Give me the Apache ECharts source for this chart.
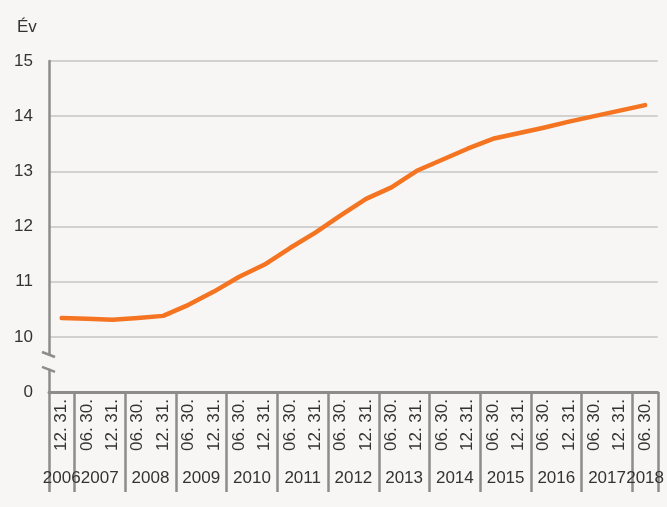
<!DOCTYPE html>
<html>
<head>
<meta charset="utf-8">
<script src="https://cdn.jsdelivr.net/npm/echarts@6/dist/echarts.min.js"></script>
<style>
  html, body { margin: 0; padding: 0; background: #f7f6f4; }
  #chart { width: 667px; height: 507px; }
</style>
</head>
<body>
<div id="chart"></div>
<script>
// félévek (hónap. nap.)
var dates = [
  "12. 31.",
  "06. 30.", "12. 31.", "06. 30.", "12. 31.", "06. 30.", "12. 31.",
  "06. 30.", "12. 31.", "06. 30.", "12. 31.", "06. 30.", "12. 31.",
  "06. 30.", "12. 31.", "06. 30.", "12. 31.", "06. 30.", "12. 31.",
  "06. 30.", "12. 31.", "06. 30.", "12. 31.",
  "06. 30."
];
var years = ["2006", "2007", "2008", "2009", "2010", "2011", "2012",
             "2013", "2014", "2015", "2016", "2017", "2018"];
// év címkék közepe és az évhatárok (kategória-egységben)
var yearCenters = [0.5, 2, 4, 6, 8, 10, 12, 14, 16, 18, 20, 22, 23.5];
var yearBounds = [0, 1, 3, 5, 7, 9, 11, 13, 15, 17, 19, 21, 23, 24];
// átlagéletkor, év
var values = [
  10.34, 10.33, 10.31, 10.34, 10.38, 10.58, 10.82, 11.09, 11.31, 11.61,
  11.89, 12.2, 12.5, 12.71, 13.01, 13.21, 13.41, 13.59, 13.69, 13.79,
  13.9, 14.0, 14.1, 14.2
];
var yTicks = [9, 10, 11, 12, 13, 14, 15];
var yTickLabels = ["0", "10", "11", "12", "13", "14", "15"];

var axisColor = "#8c8c8c";
var textColor = "#333333";
var bgColor = "#f7f6f4";

function init() {
  var myChart = echarts.init(document.getElementById("chart"));
  myChart.setOption({
    backgroundColor: bgColor,
    textStyle: { fontFamily: "Liberation Sans, Arial, sans-serif" },
    title: {
      text: "Év",
      left: 12,
      top: 14,
      textStyle: { fontSize: 17, fontWeight: "normal", color: textColor }
    },
    grid: { left: 49, right: 8, top: 61, bottom: 115 },
    xAxis: [
      {
        type: "category",
        data: dates,
        boundaryGap: true,
        axisLine: { lineStyle: { color: axisColor, width: 3 } },
        axisTick: {
          interval: 0,
          length: 68,
          lineStyle: { color: axisColor, width: 2.5 }
        },
        axisLabel: {
          interval: 0,
          rotate: 90,
          margin: 7,
          fontSize: 17,
          color: textColor
        }
      },
      {
        type: "value",
        position: "bottom",
        min: 0,
        max: 24,
        axisLine: { show: false },
        splitLine: { show: false },
        axisTick: {
          show: true,
          customValues: yearBounds,
          length: 100,
          lineStyle: { color: axisColor, width: 2.5 }
        },
        axisLabel: {
          customValues: yearCenters,
          margin: 78,
          fontSize: 17,
          color: textColor,
          formatter: function (v) {
            var i = yearCenters.indexOf(v);
            return i < 0 ? "" : years[i];
          }
        }
      }
    ],
    yAxis: {
      type: "value",
      min: yTicks[0],
      max: yTicks[yTicks.length - 1],
      interval: 1,
      axisLine: { show: true, lineStyle: { color: axisColor, width: 2.5 } },
      axisTick: { show: false },
      axisLabel: {
        margin: 16,
        fontSize: 17,
        color: textColor,
        formatter: function (v) {
          var i = yTicks.indexOf(v);
          return i < 0 ? "" : yTickLabels[i];
        }
      },
      splitLine: { lineStyle: { color: "#c4c4c4", width: 1.5 } }
    },
    series: [
      {
        type: "line",
        data: values,
        xAxisIndex: 0,
        symbol: "none",
        lineStyle: { color: "#f47421", width: 4.5, cap: "round", join: "round" }
      }
    ]
  });

  // tengelytörés jele a 0 és 10 között
  var breakTop = myChart.convertToPixel({ yAxisIndex: 0 }, 9.67);
  var breakBot = myChart.convertToPixel({ yAxisIndex: 0 }, 9.42);
  var axisX = myChart.convertToPixel({ xAxisIndex: 1 }, 0);
  myChart.setOption({
    graphic: [
      {
        type: "rect",
        shape: { x: axisX - 3, y: breakTop, width: 6, height: breakBot - breakTop },
        style: { fill: bgColor },
        z: 100
      },
      {
        type: "line",
        shape: { x1: axisX - 7, y1: breakTop - 3, x2: axisX + 6, y2: breakTop + 2 },
        style: { stroke: axisColor, lineWidth: 2.5 },
        z: 101
      },
      {
        type: "line",
        shape: { x1: axisX - 7, y1: breakBot - 2, x2: axisX + 6, y2: breakBot + 3 },
        style: { stroke: axisColor, lineWidth: 2.5 },
        z: 101
      }
    ]
  });
}
init();
</script>
</body>
</html>
